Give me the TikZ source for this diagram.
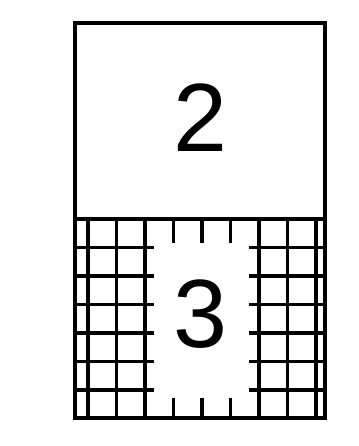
\documentclass[tikz,border=0pt]{standalone}
\usepackage{fontspec}
\setmainfont{Liberation Sans}
\usetikzlibrary{positioning}

\begin{document}
\begin{tikzpicture}[x=1pt, y=1pt,
  box/.style={draw, line width=3.2pt, minimum width=250pt, inner sep=0pt, outer sep=0pt,
    font=\fontsize{97}{97}\selectfont},
  gridline/.style={line width=3.2pt},
]
\useasboundingbox (0,0) rectangle (358,446);

\node[box, minimum height=196pt, text depth=6pt] (two) at (200,325) {2};
\node[box, minimum height=199pt, text depth=10pt, below=0pt of two] (three) {3};

% hatched sides
\foreach \k in {0,1,2,6,7,8} {
  \draw[gridline] (88+28.5*\k, 28) -- (88+28.5*\k, 227);
}
\foreach \j in {1,...,6} {
  \draw[gridline] (75, 227-28.5*\j) -- (154, 227-28.5*\j);
  \draw[gridline] (249, 227-28.5*\j) -- (325, 227-28.5*\j);
}

% ticks in the middle
\foreach \k in {3,4,5} {
  \draw[gridline] (88+28.5*\k, 227) -- (88+28.5*\k, 203);
  \draw[gridline] (88+28.5*\k, 28) -- (88+28.5*\k, 48);
}

\end{tikzpicture}
\end{document}
